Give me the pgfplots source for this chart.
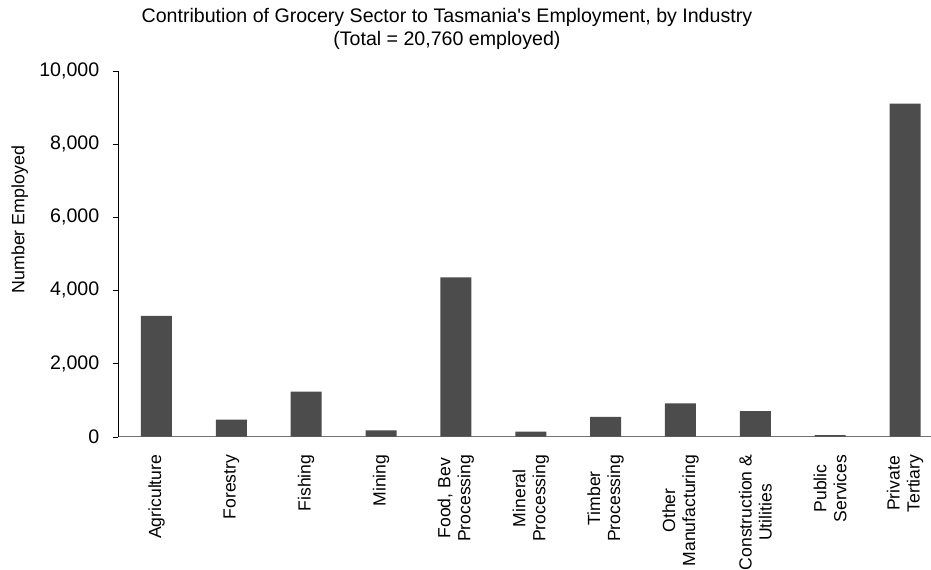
\documentclass[border=0pt]{standalone}
\usepackage{fontspec}
\setmainfont{Liberation Sans}
\newfontfamily\plainfont{Liberation Sans}
\usepackage{pgfplots}
\pgfplotsset{compat=1.18}
\usepackage{pgfplotstable}
\pgfplotstableread{
x y
0 3300
1 470
2 1230
3 170
4 4350
5 140
6 540
7 910
8 700
9 40
10 9100
}\datatable

\begin{document}
\begin{tikzpicture}
\begin{axis}[
  scale only axis, width=406.35pt, height=183pt,
  xmin=-0.510, xmax=10.347, ymin=0, ymax=10000,
  clip=false,
  axis x line=bottom, axis y line=left,
  axis line style={-},
  x axis line style={draw=black!55},
  y axis line style={draw=black},
  xtick={0,...,10},
  xtick style={draw=none},
  xticklabels={Agriculture, Forestry, Fishing, Mining, {Food, Bev\\Processing}, {Mineral\\Processing}, {Timber\\Processing}, {Other\\Manufacturing}, {Construction \&\\Utilities}, {Public\\Services}, {Private\\Tertiary}},
  xticklabel style={rotate=90, anchor=east, align=center, font=\fontsize{8.8}{10}\selectfont, inner sep=0pt, xshift=-6pt},
  ytick={0,2000,...,10000},
  tick align=outside, major tick length=2.8pt,
  ytick style={draw=black},
  yticklabel style={font=\fontsize{9.8}{11}\selectfont, inner sep=0pt, xshift=-6.5pt},
  /pgf/number format/1000 sep={,},
  /pgf/number format/assume math mode=true,
  scaled y ticks=false,
]
\addplot[ybar, bar width=0.414, draw=none, fill=black!70] table[x=x,y=y]{\datatable};
\node[anchor=base, font=\plainfont\fontsize{9.8}{12}\selectfont] at ([yshift=24.35pt]axis cs:3.88,10000) {Contribution of Grocery Sector to Tasmania's Employment, by Industry};
\node[anchor=base, font=\fontsize{9.8}{12}\selectfont] at ([yshift=12.85pt]axis cs:3.88,10000) {(Total = 20,760 employed)};
\node[rotate=90, font=\fontsize{8.9}{10}\selectfont] at ([xshift=-49.3pt]axis cs:-0.510,5930) {Number Employed};
\end{axis}
\pgfresetboundingbox
\path[use as bounding box] ([shift={(-59.15pt,-66.15pt)}]current axis.south west) rectangle ([shift={(0pt,35.35pt)}]current axis.north east);
\end{tikzpicture}
\end{document}
